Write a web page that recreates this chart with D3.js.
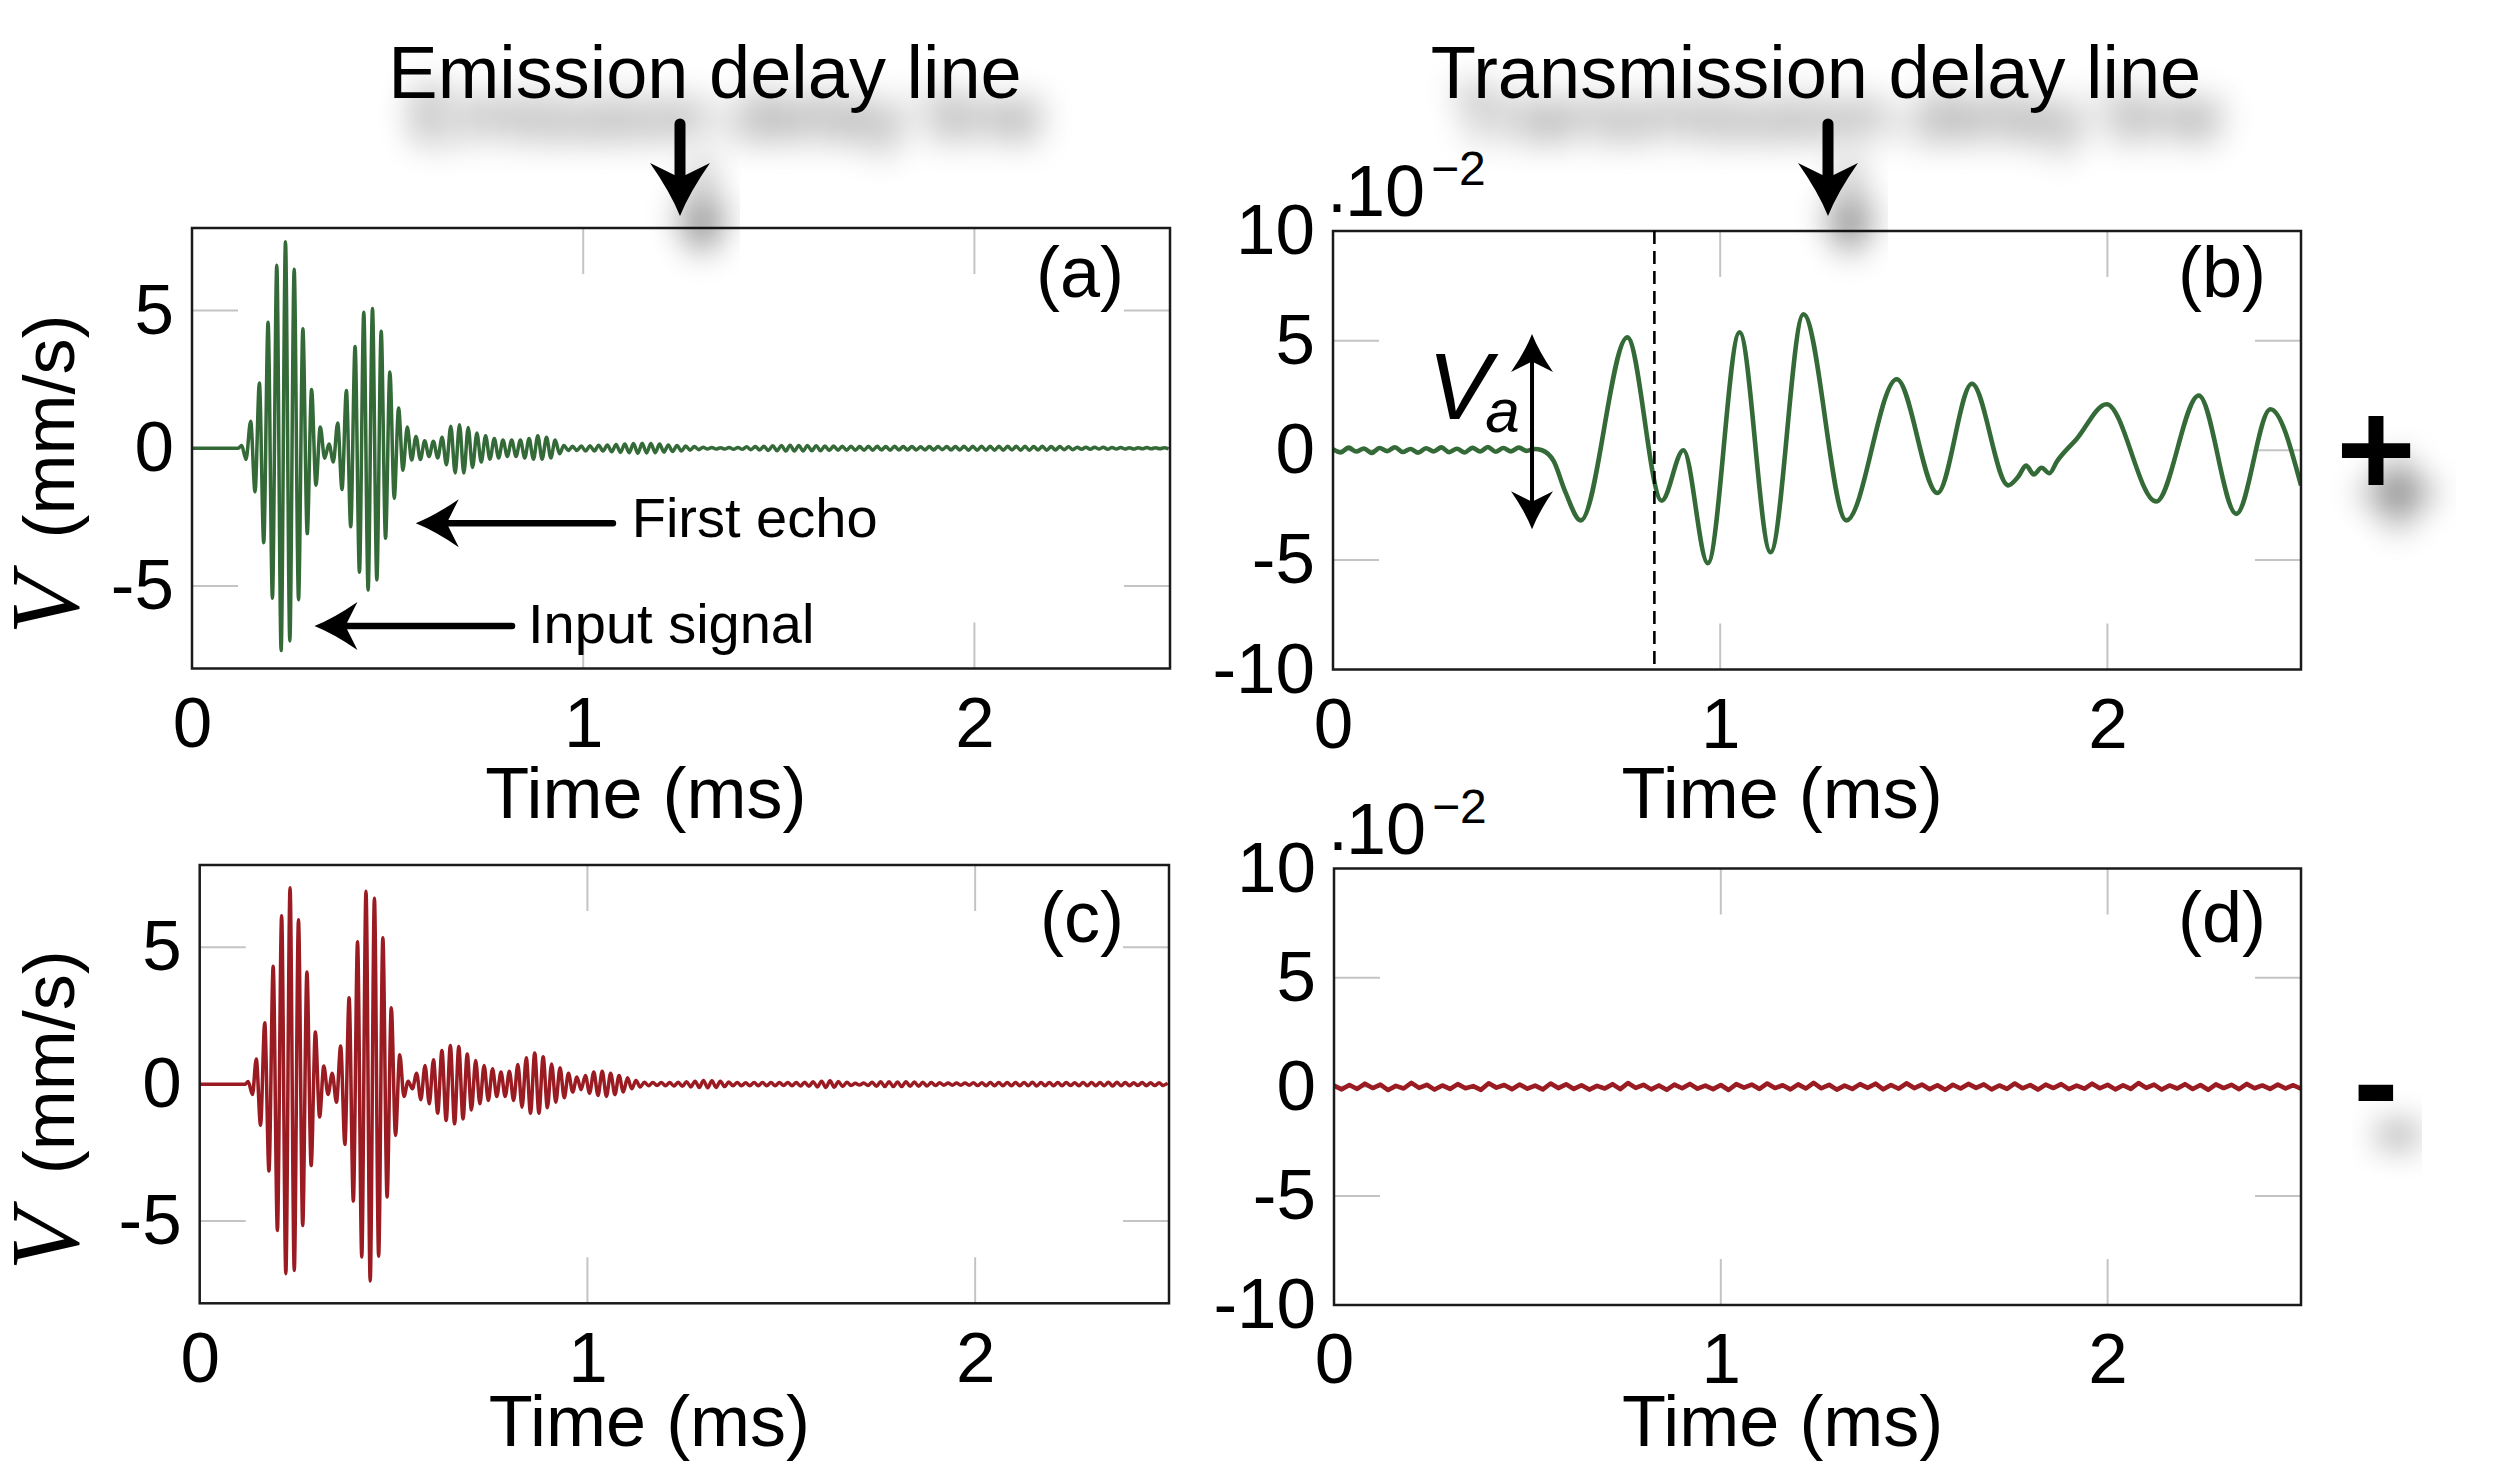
<!DOCTYPE html>
<html>
<head>
<meta charset="utf-8">
<script src="https://cdn.jsdelivr.net/npm/d3@7"></script>
<style>
  body { margin: 0; background: #fff; }
  text { font-family: "Liberation Sans", Arial, Helvetica, sans-serif; fill: #000; }
</style>
</head>
<body>
<svg id="fig" width="2511" height="1466"></svg>
<script>
// ---- data (time in ms, V in mm/s, panels b/d in 1e-2 mm/s) ----

// panel (a): onset, then successive extrema of the emitted burst + echoes
const aLeadT = [0, 0.118, 0.127, 0.138];
const aLeadV = [0, 0, 0.1, -0.41];
const aStart = 0.150;
const aStep = 0.01112;
const aExtrema = [
  0.98,-1.58,2.37,-3.43,4.58,-5.45,6.65,-7.35,7.5,-7.0,
  6.5,-5.5,4.34,-3.1,2.13,-1.34,0.77,-0.36,0.15,-0.5,
  0.92,-1.5,2.1,-2.85,3.7,-4.5,4.94,-5.15,5.08,-4.78,
  4.25,-3.27,2.77,-1.82,1.46,-0.8,0.77,-0.43,0.43,-0.41,
  0.27,-0.3,0.25,-0.35,0.4,-0.6,0.8,-0.9,0.85,-0.9,
  0.75,-0.7,0.55,-0.5,0.45,-0.4,0.35,-0.35,0.3,-0.3,
  0.3,-0.3,0.3,-0.35,0.35,-0.4,0.45,-0.4,0.4,-0.35,
  0.3,-0.2,0.1,
  -0.08,0.07,-0.08,0.08,
  -0.1,0.09,-0.1,0.11,-0.1,0.12,
  -0.13,0.14,-0.15,0.15,-0.16,
  0.17,-0.18,0.18,-0.17,0.17,-0.16,0.15,
  -0.14,0.12,-0.12,0.1,-0.1,
  0.08,-0.07,0.06,-0.05,
  0.04,-0.03,0.03,-0.03,0.02,-0.03,0.03,-0.04,0.03,-0.04,0.05,-0.05,0.06,-0.06,
  0.07,-0.08,0.09,-0.09,
  0.1,-0.1,0.11,-0.1,0.1,-0.1,0.1,-0.09,0.09,-0.09,0.08,-0.08,0.08,-0.07,
  0.07,-0.07,0.07,-0.07,0.06,-0.07,0.07,-0.07,0.07,-0.06,0.06,-0.07,0.07,-0.06,0.06,
  -0.06,0.06,-0.06,0.05,-0.06,0.06,-0.06,0.06,-0.05,0.06,-0.06,0.06,-0.06,0.07,-0.07,
  0.07,-0.07,0.07,-0.07,0.07,-0.07,0.07,-0.07,0.07,-0.06,0.07,-0.07,0.07,-0.07,0.06,-0.06,0.07,-0.07,0.06,-0.06,0.06,-0.05,0.05,-0.05,
  0.04,-0.04,0.04,-0.04,0.04,-0.03,0.04,-0.04,0.03,-0.03,
  0.03,-0.03,0.02,-0.03,0.02,-0.02,0.03,-0.02,0.02,-0.02,0.02,-0.02
];

// panel (c)
const cLeadT = [0, 0.118, 0.125, 0.136];
const cLeadV = [0, 0, 0.1, -0.38];
const cStart = 0.146;
const cStep = 0.01088;
const cExtrema = [
  0.92,-1.5,2.24,-3.17,4.3,-5.34,6.15,-6.92,7.17,-6.8,
  6.0,-5.16,4.09,-2.97,1.9,-1.2,0.66,-0.38,0.4,-0.66,
  1.39,-2.2,3.15,-4.27,5.2,-6.31,7.04,-7.19,6.79,-6.28,
  5.34,-4.12,2.79,-1.87,1.07,-0.45,0.11,-0.17,0.4,-0.57,
  0.68,-0.72,0.89,-1.06,1.23,-1.33,1.41,-1.45,1.37,-1.27,
  1.1,-0.94,0.86,-0.72,0.68,-0.6,0.56,-0.45,0.44,-0.45,
  0.47,-0.6,0.72,-0.84,0.96,-1.06,1.14,-1.06,1.0,-0.86,
  0.74,-0.66,0.6,-0.5,0.4,-0.29,0.26,-0.2,0.32,-0.33,
  0.44,-0.41,0.47,-0.45,0.4,-0.38,0.32,-0.29,0.23,-0.17,
  0.13,-0.1,0.07,
  -0.06,0.06,-0.05,0.06,-0.06,0.06,-0.07,0.07,-0.08,0.09,-0.1,
  0.11,-0.12,0.13,-0.13,0.12,-0.12,0.11,-0.09,0.08,
  -0.06,0.06,-0.06,0.05,-0.06,0.06,-0.06,0.06,-0.06,0.06,-0.06,0.06,-0.05,0.06,-0.06,0.06,-0.07,0.07,-0.08,0.09,
  -0.1,0.11,-0.12,0.12,-0.11,0.1,-0.09,0.07,-0.05,
  0.03,-0.03,0.04,-0.05,
  0.07,-0.08,0.09,-0.09,0.09,-0.09,0.08,-0.09,0.09,-0.08,0.08,-0.08,0.07,-0.07,0.06,-0.05,
  0.05,-0.04,0.04,-0.04,0.04,-0.04,0.04,-0.04,0.05,-0.05,0.05,
  -0.06,0.06,-0.06,0.06,-0.06,0.06,-0.06,0.06,-0.06,0.06,-0.06,0.07,-0.07,0.06,-0.06,0.06,-0.06,0.06,-0.06,0.06,-0.05,0.05,
  -0.06,0.06,-0.06,0.06,-0.06,0.06,-0.06,0.07,-0.07,0.07,-0.06,0.06,-0.06,0.05,-0.05,0.06,-0.06,0.05,-0.05,0.05,-0.05,0.04
];

// panel (b): baseline noise before arrival (every 0.02 ms), then the transmitted wave
const bNoiseStep = 0.02;
const bNoise = [0.05,-0.1,0.12,-0.06,0.08,-0.12,0.1,-0.04,0.14,-0.08,0.06,-0.11,0.09,-0.05,
  0.13,-0.09,0.07,-0.1,0.11,-0.06,0.15,-0.07,0.1,-0.05,0.12,-0.03,0.06];
const bTime = [0.54,0.57,0.60,0.640,0.760,0.849,0.905,0.968,1.050,1.130,1.215,1.326,1.456,
  1.561,1.650,1.744,1.77,1.79,1.81,1.83,1.85,1.87,1.92,1.998,2.126,2.236,2.333,2.421,2.5];
const bVal = [0.0,-0.5,-1.9,-3.2,5.15,-2.3,0.0,-5.15,5.38,-4.65,6.2,-3.2,3.24,
  -1.95,3.03,-1.6,-1.2,-0.7,-1.1,-0.8,-1.05,-0.5,0.5,2.1,-2.34,2.5,-2.9,1.87,-1.6];
const bArrival = 0.83;   // dashed line
const vaTop = 5.3, vaBottom = -3.6, vaTime = 0.514;

// panel (d): noise only (every step over 0..2.5 ms)
const dNoise = [0.05,-0.12,0.08,-0.1,0.14,-0.06,0.1,-0.15,0.04,-0.08,0.18,-0.05,0.09,-0.13,0.06,-0.1,
  0.12,-0.07,0.03,-0.14,0.16,-0.04,0.08,-0.11,0.1,-0.09,0.05,-0.12,0.15,-0.06,0.11,-0.1,0.07,-0.13,
  0.04,-0.08,0.12,-0.11,0.17,-0.05,0.09,-0.12,0.06,-0.14,0.1,-0.07,0.13,-0.09,0.05,-0.11,0.08,-0.15,
  0.12,-0.04,0.1,-0.1,0.15,-0.06,0.07,-0.12,0.11,-0.08,0.18,-0.07,0.09,-0.13,0.05,-0.1,0.12,-0.05,
  0.14,-0.12,0.08,-0.09,0.16,-0.06,0.1,-0.11,0.07,-0.14,0.09,-0.08,0.13,-0.05,0.11,-0.12,0.06,-0.1,
  0.15,-0.07,0.08,-0.13,0.1,-0.06,0.12,-0.11,0.05,-0.09,0.14,-0.07,0.09,-0.12,0.07,-0.1,0.17,-0.05,
  0.1,-0.13,0.06,-0.08,0.12,-0.1,0.08,-0.14,0.11,-0.06,0.09,-0.11,0.13,-0.07,0.06,-0.1,0.1,-0.08,0.07,-0.09];

const xTicks = [0, 1, 2];
const xGrid = [1, 2];
const yTicksMm = [-5, 0, 5];
const yTicksSmall = [-10, -5, 0, 5, 10];
const yGrid = [-5, 0, 5];

// ---- helpers ----
function extremaSeries(leadT, leadV, t0, dt, vals) {
  const pts = leadT.map((t, i) => [t, leadV[i]]);
  vals.forEach((v, i) => pts.push([t0 + i * dt, v]));
  return pts.filter(p => p[0] <= 2.5);
}

const green = '#346a37';
const red = '#9a1b21';

const seriesA = extremaSeries(aLeadT, aLeadV, aStart, aStep, aExtrema);
const seriesC = extremaSeries(cLeadT, cLeadV, cStart, cStep, cExtrema);
const seriesB = bNoise.map((v, i) => [i * bNoiseStep, v]).concat(bTime.map((t, i) => [t, bVal[i]]));
const dStep = 2.5 / (dNoise.length - 1);
const seriesD = dNoise.map((v, i) => [i * dStep, v]);

const panels = [
  { key: 'a', x0: 192, x1: 1170, y0: 228, y1: 668.5, yMax: 8, yTicks: yTicksMm, data: seriesA, color: green, width: 3.5,
    curve: d3.curveMonotoneX, tag: '(a)', tagX: 1124, tagY: 297, xPad: 28, xTitleY: 818 },
  { key: 'b', x0: 1333, x1: 2301, y0: 231, y1: 669.5, yMax: 10, yTicks: yTicksSmall, data: seriesB, color: green, width: 4.6,
    curve: d3.curveMonotoneX, tag: '(b)', tagX: 2266, tagY: 297, xPad: 28, xTitleY: 818, exp: true },
  { key: 'c', x0: 199.7, x1: 1169, y0: 865, y1: 1303.3, yMax: 8, yTicks: yTicksMm, data: seriesC, color: red, width: 3.5,
    curve: d3.curveMonotoneX, tag: '(c)', tagX: 1124, tagY: 942, xPad: 28, xTitleY: 1446 },
  { key: 'd', x0: 1334, x1: 2301, y0: 868.5, y1: 1305, yMax: 10, yTicks: yTicksSmall, data: seriesD, color: red, width: 4.6,
    curve: d3.curveLinear, tag: '(d)', tagX: 2266, tagY: 942, xPad: 28, xTitleY: 1446, exp: true }
];

const svg = d3.select('#fig');
const defs = svg.append('defs');

const shadow = defs.append('filter').attr('id', 'shadow')
  .attr('x', '-50%').attr('y', '-60%').attr('width', '200%').attr('height', '300%');
shadow.append('feGaussianBlur').attr('in', 'SourceAlpha').attr('stdDeviation', 17).attr('result', 'blur');
shadow.append('feOffset').attr('in', 'blur').attr('dx', 22).attr('dy', 42).attr('result', 'off');
shadow.append('feComponentTransfer').attr('in', 'off').attr('result', 'soft')
  .append('feFuncA').attr('type', 'linear').attr('slope', 0.6);
const merge = shadow.append('feMerge');
merge.append('feMergeNode').attr('in', 'soft');
merge.append('feMergeNode').attr('in', 'SourceGraphic');

// stealth-like arrow: shaft from (x1,y1) to the head, tip at (x2,y2)
function arrow(g, x1, y1, x2, y2, shaft, L, W, filter) {
  const len = Math.hypot(x2 - x1, y2 - y1);
  const ux = (x2 - x1) / len, uy = (y2 - y1) / len;
  const nx = -uy, ny = ux;
  const notch = [x2 - ux * L * 0.72, y2 - uy * L * 0.72];
  const g2 = g.append('g');
  if (filter) g2.attr('filter', 'url(#shadow)');
  g2.append('line')
    .attr('x1', x1).attr('y1', y1).attr('x2', notch[0]).attr('y2', notch[1])
    .attr('stroke', '#000').attr('stroke-width', shaft).attr('stroke-linecap', 'round');
  const bl = [x2 - ux * L + nx * W, y2 - uy * L + ny * W];
  const br = [x2 - ux * L - nx * W, y2 - uy * L - ny * W];
  const cl = [x2 - ux * L * 0.45 + nx * W * 0.32, y2 - uy * L * 0.45 + ny * W * 0.32];
  const cr = [x2 - ux * L * 0.45 - nx * W * 0.32, y2 - uy * L * 0.45 - ny * W * 0.32];
  g2.append('path')
    .attr('d', `M${x2},${y2} Q${cl[0]},${cl[1]} ${bl[0]},${bl[1]} L${notch[0]},${notch[1]} L${br[0]},${br[1]} Q${cr[0]},${cr[1]} ${x2},${y2} Z`)
    .attr('fill', '#000');
}

panels.forEach(p => {
  const x = d3.scaleLinear().domain([0, 2.5]).range([p.x0, p.x1]);
  const y = d3.scaleLinear().domain([-p.yMax, p.yMax]).range([p.y1, p.y0]);
  p.x = x; p.y = y;
  const g = svg.append('g').attr('class', 'panel-' + p.key);

  const clipId = 'clip-' + p.key;
  defs.append('clipPath').attr('id', clipId).append('rect')
    .attr('x', p.x0).attr('y', p.y0).attr('width', p.x1 - p.x0).attr('height', p.y1 - p.y0);

  // light grey inner ticks (grid stubs) on all sides
  const tickLen = 46;
  const grid = g.append('g').attr('stroke', '#c4c4c4').attr('stroke-width', 2);
  xGrid.forEach(t => {
    grid.append('line').attr('x1', x(t)).attr('x2', x(t)).attr('y1', p.y0).attr('y2', p.y0 + tickLen);
    grid.append('line').attr('x1', x(t)).attr('x2', x(t)).attr('y1', p.y1 - tickLen).attr('y2', p.y1);
  });
  yGrid.forEach(v => {
    grid.append('line').attr('x1', p.x0).attr('x2', p.x0 + tickLen).attr('y1', y(v)).attr('y2', y(v));
    grid.append('line').attr('x1', p.x1 - tickLen).attr('x2', p.x1).attr('y1', y(v)).attr('y2', y(v));
  });

  // signal
  const line = d3.line().x(d => x(d[0])).y(d => y(d[1])).curve(p.curve);
  g.append('path').datum(p.data)
    .attr('clip-path', `url(#${clipId})`)
    .attr('d', line)
    .attr('fill', 'none')
    .attr('stroke', p.color)
    .attr('stroke-width', p.width)
    .attr('stroke-linejoin', 'round');

  // frame
  g.append('rect')
    .attr('x', p.x0).attr('y', p.y0).attr('width', p.x1 - p.x0).attr('height', p.y1 - p.y0)
    .attr('fill', 'none').attr('stroke', '#1a1a1a').attr('stroke-width', 2.5);

  // axes
  const xAxis = g.append('g').attr('transform', `translate(0,${p.y1})`)
    .call(d3.axisBottom(x).tickValues(xTicks).tickSize(0).tickPadding(p.xPad).tickFormat(d => String(d)));
  const yAxis = g.append('g').attr('transform', `translate(${p.x0},0)`)
    .call(d3.axisLeft(y).tickValues(p.yTicks).tickSize(0).tickPadding(18).tickFormat(d => String(d)));
  [xAxis, yAxis].forEach(a => {
    a.select('.domain').remove();
    a.selectAll('text').attr('font-size', 71).attr('font-family', '"Liberation Sans", Arial, sans-serif').attr('fill', '#000');
  });

  g.append('text').attr('x', x(1.16)).attr('y', p.xTitleY)
    .attr('text-anchor', 'middle').attr('font-size', 72).text('Time (ms)');

  g.append('text').attr('x', p.tagX).attr('y', p.tagY)
    .attr('text-anchor', 'end').attr('font-size', 72).text(p.tag);

  if (p.exp) {
    const e = g.append('text').attr('x', p.x0 - 8).attr('y', p.y0 - 15).attr('font-size', 72);
    e.append('tspan').attr('dy', 12).text('·');
    e.append('tspan').attr('dy', -12).attr('dx', -4).text('10');
    e.append('tspan').attr('dy', -31).attr('dx', 6).attr('font-size', 48).text('\u22122');
  }
});

// y-axis titles for left column
[panels[0], panels[2]].forEach(p => {
  const cy = (p.y0 + p.y1) / 2;
  const t = svg.append('text')
    .attr('transform', `translate(74,${cy + 186}) rotate(-90)`)
    .attr('font-size', 72);
  t.append('tspan').attr('font-family', '"Liberation Serif", "Times New Roman", serif')
    .attr('font-style', 'italic').attr('font-size', 98).attr('dy', 4).text('V');
  t.append('tspan').attr('dy', -4).text('\u2002(mm/s)');
});

// annotations in panel (a)
{
  const p = panels[0];
  const g = svg.append('g');
  arrow(g, p.x(1.076), p.y(-2.72), p.x(0.572), p.y(-2.72), 6.5, 43, 24, false);
  arrow(g, p.x(0.818), p.y(-6.46), p.x(0.313), p.y(-6.46), 6.5, 43, 24, false);
  g.append('text').attr('x', p.x(1.124)).attr('y', p.y(-3.24)).attr('font-size', 56).text('First echo');
  g.append('text').attr('x', p.x(0.859)).attr('y', p.y(-7.09)).attr('font-size', 56).text('Input signal');
}

// annotations in panel (b)
{
  const p = panels[1];
  const g = svg.append('g');
  g.append('line')
    .attr('x1', p.x(bArrival)).attr('x2', p.x(bArrival))
    .attr('y1', p.y0).attr('y2', p.y1)
    .attr('stroke', '#000').attr('stroke-width', 2.6).attr('stroke-dasharray', '13,7');
  const mid = (vaTop + vaBottom) / 2;
  arrow(g, p.x(vaTime), p.y(mid), p.x(vaTime), p.y(vaTop), 4, 38, 21, false);
  arrow(g, p.x(vaTime), p.y(mid), p.x(vaTime), p.y(vaBottom), 4, 38, 21, false);
  const va = g.append('text').attr('x', p.x(0.245)).attr('y', p.y(1.42))
    .attr('font-family', '"Liberation Serif", "Times New Roman", serif').attr('font-style', 'italic')
    .attr('font-size', 95);
  va.append('tspan').text('V');
  va.append('tspan').attr('font-size', 62).attr('dx', -6).attr('dy', 13).text('a');
}

// column titles with down arrows, and +/- signs
const header = svg.append('g');
[['Emission delay line', 705, 680], ['Transmission delay line', 1816, 1828]].forEach(([label, cx, ax]) => {
  header.append('text').attr('x', cx).attr('y', 98).attr('text-anchor', 'middle')
    .attr('font-size', 74).attr('filter', 'url(#shadow)').text(label);
  arrow(header, ax, 124, ax, 216, 11, 53, 30, true);
});
header.append('text').attr('x', 2376).attr('y', 496).attr('text-anchor', 'middle')
  .attr('font-size', 136).attr('font-weight', 'bold').attr('filter', 'url(#shadow)').text('+');
header.append('text').attr('x', 2376).attr('y', 1128).attr('text-anchor', 'middle')
  .attr('font-size', 136).attr('font-weight', 'bold').attr('filter', 'url(#shadow)').text('-');
</script>
</body>
</html>
